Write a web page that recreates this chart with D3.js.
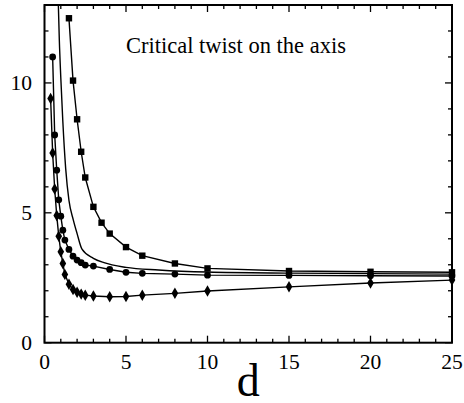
<!DOCTYPE html>
<html><head><meta charset="utf-8"><script src="https://cdn.jsdelivr.net/npm/d3@7"></script></head>
<body style="margin:0">
<svg id="chart" width="464" height="403"></svg>
<script>
// ---- data ----
const squareD   = [1.5, 1.75, 2.0, 2.25, 2.5, 3, 3.5, 4, 5, 6, 8, 10, 15, 20, 25];
const squareV   = [12.49, 10.09, 8.6, 7.35, 6.36, 5.23, 4.62, 4.2, 3.68, 3.35, 3.05, 2.86, 2.76, 2.73, 2.71];

const circleD   = [0.5, 0.625, 0.75, 0.875, 1.0, 1.125, 1.25, 1.5, 1.75, 2.0, 2.25, 2.5, 3, 4, 5, 6, 8, 10, 15, 20, 25];
const circleV   = [11.0, 8.0, 6.64, 5.5, 4.87, 4.33, 3.95, 3.59, 3.33, 3.18, 3.08, 2.99, 2.95, 2.82, 2.71, 2.67, 2.64, 2.6, 2.59, 2.58, 2.57];

const diamondD  = [0.375, 0.5, 0.625, 0.75, 0.875, 1.0, 1.125, 1.25, 1.5, 1.75, 2.0, 2.25, 2.5, 3, 4, 5, 6, 8, 10, 15, 20, 25];
const diamondV  = [9.4, 7.3, 5.92, 4.9, 4.1, 3.5, 3.05, 2.63, 2.25, 2.05, 1.94, 1.87, 1.83, 1.8, 1.77, 1.78, 1.83, 1.9, 1.99, 2.15, 2.3, 2.41];

const plainD    = [0.85, 0.91, 1.0, 1.12, 1.3, 1.5, 1.77, 2.0, 2.3, 3.0, 3.65, 5, 7, 10, 15, 20, 25];
const plainV    = [13.0, 11.64, 10.2, 8.57, 6.7, 5.48, 4.72, 4.2, 3.6, 3.25, 3.08, 2.9, 2.8, 2.72, 2.68, 2.66, 2.64];

const xMajorTicks = [0, 5, 10, 15, 20, 25];
const yMajorTicks = [0, 5, 10];
const xMinorTicks = d3.range(0, 26, 1);
const yMinorTicks = d3.range(0, 14, 1);
const titleText = "Critical twist on the axis";
const xLabel = "d";

// ---- layout ----
const svg = d3.select("#chart");
const L = 44.5, R = 452, T = 5, B = 342.7;
const x = d3.scaleLinear().domain([0, 25]).range([L, R]);
const y = d3.scaleLinear().domain([0, 13]).range([B, T]);

const plot = svg.append("g");
const line = d3.line().x(d => x(d[0])).y(d => y(d[1]));
const zip = (a, b) => a.map((v, i) => [v, b[i]]);

plot.append("path").datum(zip(plainD, plainV))
  .attr("d", d3.line().x(d => x(d[0])).y(d => y(d[1])).curve(d3.curveMonotoneX))
  .attr("fill", "none").attr("stroke", "#000").attr("stroke-width", 1.4);

[[squareD, squareV], [circleD, circleV], [diamondD, diamondV]].forEach(([dd, vv]) => {
  plot.append("path").datum(zip(dd, vv)).attr("d", line)
    .attr("fill", "none").attr("stroke", "#000").attr("stroke-width", 1.4);
});

plot.selectAll("rect.sq").data(zip(squareD, squareV)).enter().append("rect")
  .attr("x", d => x(d[0]) - 3.2).attr("y", d => y(d[1]) - 3.2)
  .attr("width", 6.4).attr("height", 6.4).attr("fill", "#000");

plot.selectAll("circle.ci").data(zip(circleD, circleV)).enter().append("circle")
  .attr("cx", d => x(d[0])).attr("cy", d => y(d[1])).attr("r", 3.4).attr("fill", "#000");

const diamond = d3.symbol().type(d3.symbolDiamond).size(38);
plot.selectAll("path.di").data(zip(diamondD, diamondV)).enter().append("path")
  .attr("transform", d => `translate(${x(d[0])},${y(d[1])})`)
  .attr("d", diamond).attr("fill", "#000");

svg.append("rect").attr("x", 0).attr("y", 0).attr("width", 464).attr("height", T).attr("fill", "#fff");

svg.append("rect").attr("x", L).attr("y", T).attr("width", R - L).attr("height", B - T)
  .attr("fill", "none").attr("stroke", "#000").attr("stroke-width", 2);

const tk = svg.append("g").attr("stroke", "#000").attr("stroke-width", 1.3);
xMinorTicks.forEach(v => {
  const len = xMajorTicks.includes(v) ? 7 : 4;
  tk.append("line").attr("x1", x(v)).attr("x2", x(v)).attr("y1", B).attr("y2", B - len);
  tk.append("line").attr("x1", x(v)).attr("x2", x(v)).attr("y1", T).attr("y2", T + len);
});
yMinorTicks.forEach(v => {
  const len = yMajorTicks.includes(v) ? 7 : 4;
  tk.append("line").attr("y1", y(v)).attr("y2", y(v)).attr("x1", L).attr("x2", L + len);
  tk.append("line").attr("y1", y(v)).attr("y2", y(v)).attr("x1", R).attr("x2", R - len);
});

const labels = [];
xMajorTicks.forEach(v => labels.push({t: String(v), x: x(v), y: 369, a: "middle", s: 21.5}));
yMajorTicks.forEach(v => labels.push({t: String(v), x: 32, y: y(v) + 7, a: "end", s: 21.5}));
labels.push({t: xLabel, x: (L + R) / 2, y: 396, a: "middle", s: 46});
labels.push({t: titleText, x: 126, y: 53, a: "start", s: 22.5});

svg.selectAll("text.lbl").data(labels).enter().append("text")
  .attr("x", d => d.x).attr("y", d => d.y).attr("text-anchor", d => d.a)
  .style("font-family", `"Liberation Serif", "Times New Roman", serif`).style("font-size", d => d.s + "px")
  .text(d => d.t);
</script>
</body></html>
